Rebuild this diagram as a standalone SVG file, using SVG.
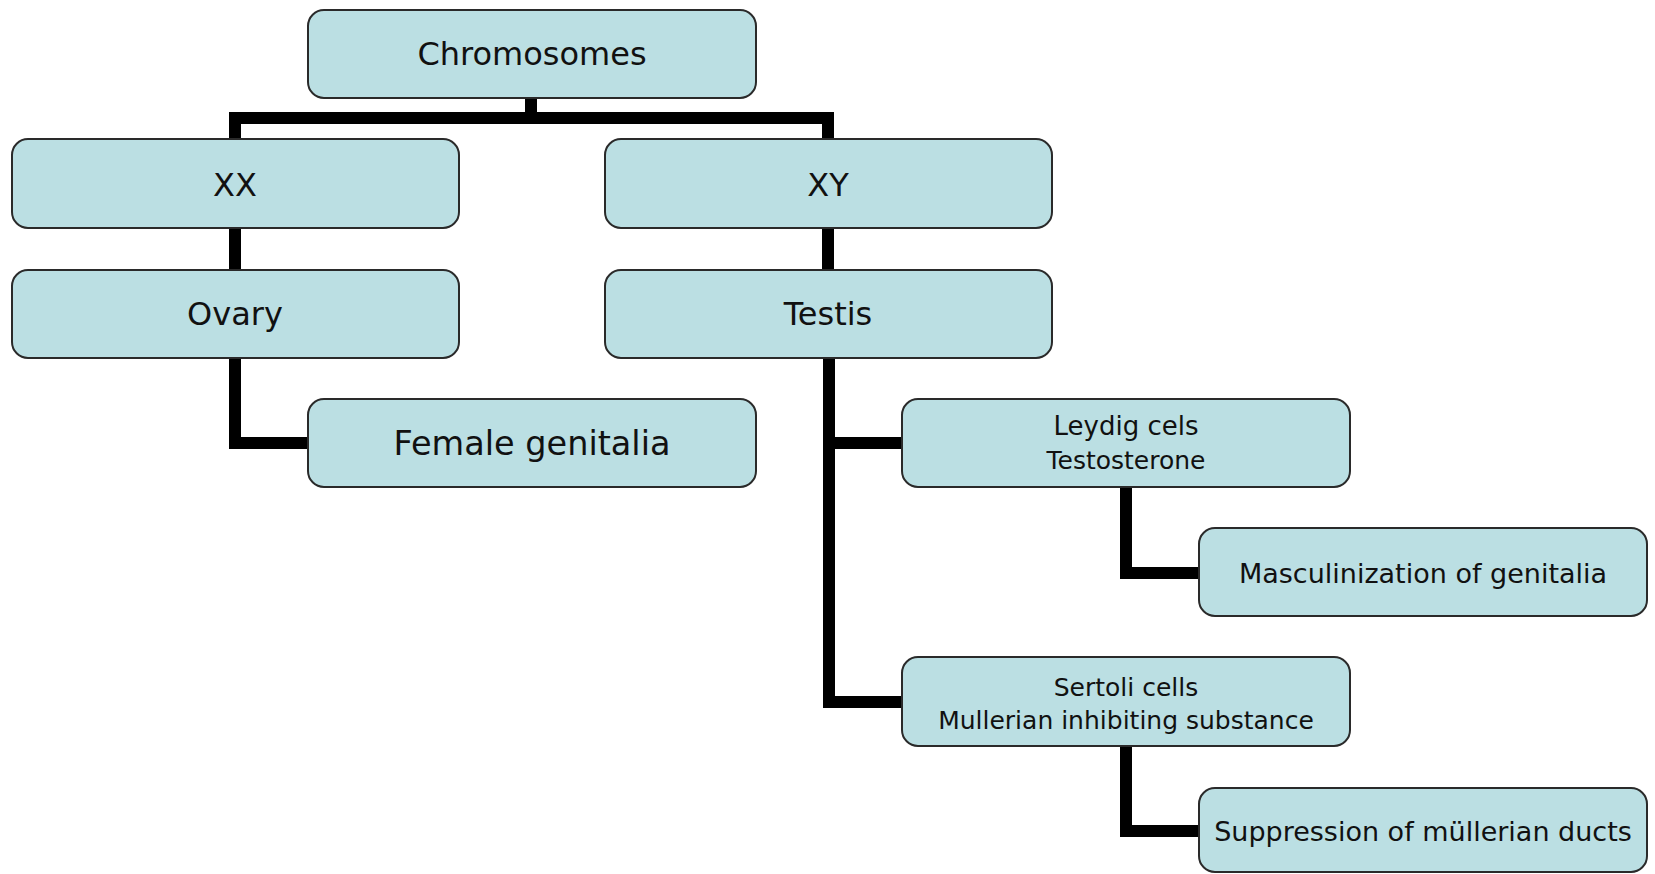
<svg xmlns="http://www.w3.org/2000/svg" width="1655" height="874" viewBox="0 0 1655 874">
  <style>
    .box { fill: #bbdfe3; stroke: #2a2a2a; stroke-width: 2; }
    .lbl { font-family: "DejaVu Sans", "Liberation Sans", sans-serif; fill: #111; text-anchor: middle; }
    .l1 { font-size: 32px; }
    .l2 { font-size: 27px; }
    .l3 { font-size: 25px; }
    .wire { fill: none; stroke: #000; stroke-width: 12; stroke-linejoin: miter; stroke-linecap: butt; }
  </style>
  <rect width="1655" height="874" fill="#fff"/>

  <!-- connectors, drawn under the boxes -->
  <g id="connectors">
    <path class="wire" d="M531 98 V118"/>
    <path class="wire" d="M235 138 V118 H828 V138"/>
    <path class="wire" d="M235 229 V269"/>
    <path class="wire" d="M828 229 V269"/>
    <path class="wire" d="M235 358 V443 H308"/>
    <path class="wire" d="M829 358 V702 H902"/>
    <path class="wire" d="M829 443 H902"/>
    <path class="wire" d="M1126 487 V573 H1199"/>
    <path class="wire" d="M1126 746 V831 H1199"/>
  </g>

  <g id="chromosomes">
    <rect class="box" x="308" y="10" width="448" height="88" rx="16"/>
    <text class="lbl l1" x="532" y="65">Chromosomes</text>
  </g>
  <g id="xx">
    <rect class="box" x="12" y="139" width="447" height="89" rx="16"/>
    <text class="lbl l1" x="235" y="196">XX</text>
  </g>
  <g id="xy">
    <rect class="box" x="605" y="139" width="447" height="89" rx="16"/>
    <text class="lbl l1" x="828" y="196">XY</text>
  </g>
  <g id="ovary">
    <rect class="box" x="12" y="270" width="447" height="88" rx="16"/>
    <text class="lbl l1" x="235" y="325">Ovary</text>
  </g>
  <g id="testis">
    <rect class="box" x="605" y="270" width="447" height="88" rx="16"/>
    <text class="lbl l1" x="828" y="325">Testis</text>
  </g>
  <g id="female-genitalia">
    <rect class="box" x="308" y="399" width="448" height="88" rx="16"/>
    <text class="lbl" x="532" y="455" font-size="33.5">Female genitalia</text>
  </g>
  <g id="leydig">
    <rect class="box" x="902" y="399" width="448" height="88" rx="16"/>
    <text class="lbl" x="1126" y="435" font-size="26">Leydig cels</text>
    <text class="lbl l3" x="1126" y="469">Testosterone</text>
  </g>
  <g id="masculinization">
    <rect class="box" x="1199" y="528" width="448" height="88" rx="16"/>
    <text class="lbl l2" x="1423" y="583">Masculinization of genitalia</text>
  </g>
  <g id="sertoli">
    <rect class="box" x="902" y="657" width="448" height="89" rx="16"/>
    <text class="lbl l3" x="1126" y="696">Sertoli cells</text>
    <text class="lbl l3" x="1126" y="729">Mullerian inhibiting substance</text>
  </g>
  <g id="suppression">
    <rect class="box" x="1199" y="788" width="448" height="84" rx="16"/>
    <text class="lbl l2" x="1423" y="841">Suppression of müllerian ducts</text>
  </g>
</svg>
